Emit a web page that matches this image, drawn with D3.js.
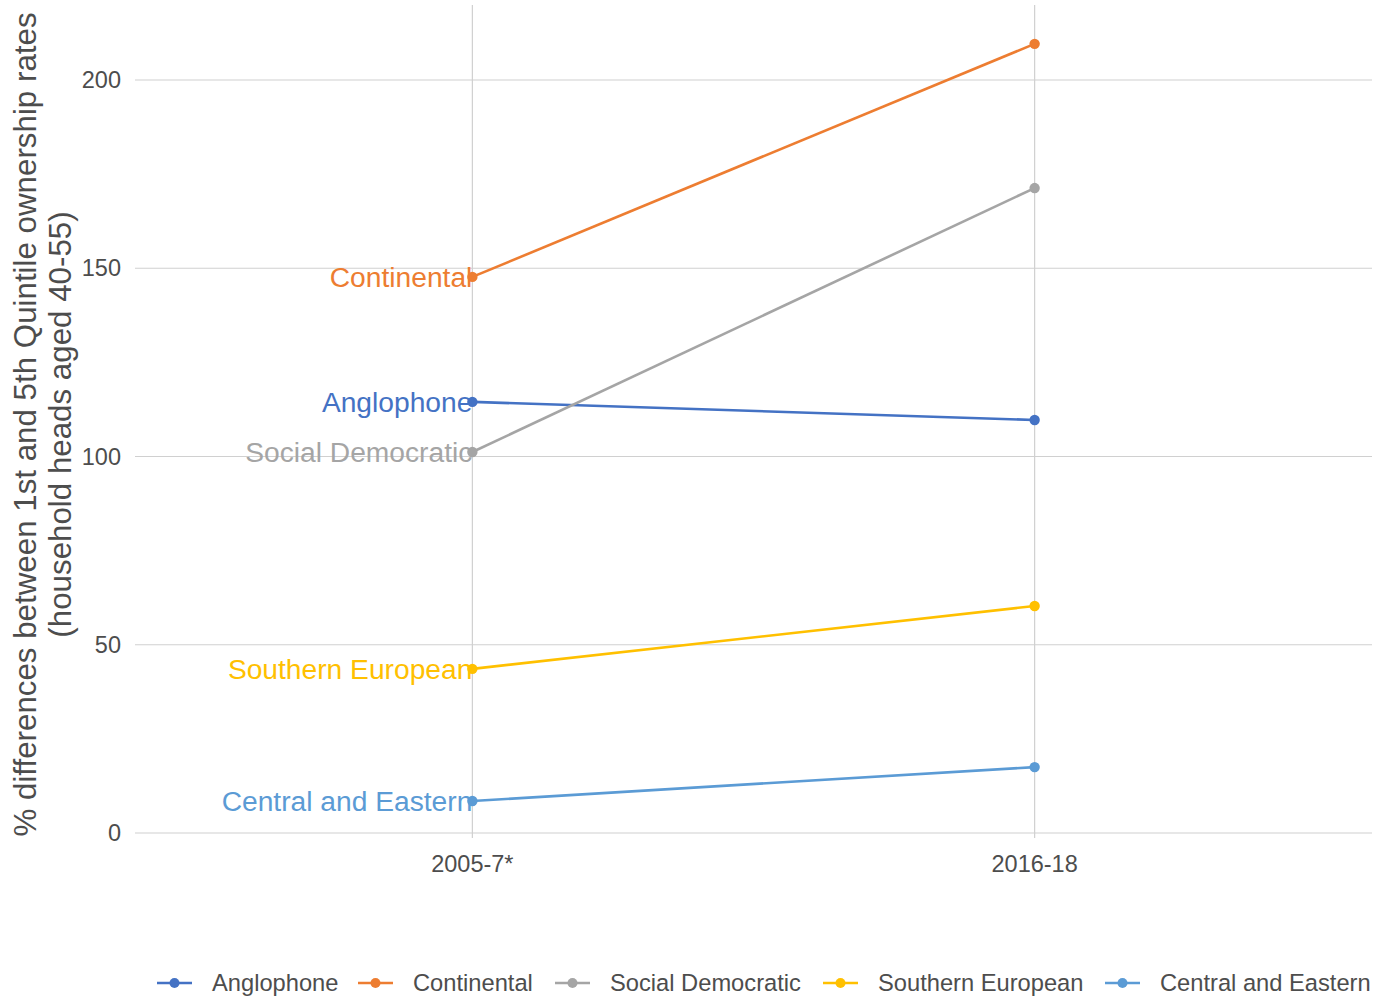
<!DOCTYPE html>
<html><head><meta charset="utf-8">
<script src="https://cdn.jsdelivr.net/npm/d3@7"></script>
<style>body{margin:0;background:#fff;}svg{display:block;font-family:"Liberation Sans",Arial,sans-serif;}</style>
</head><body>
<svg id="c" width="1384" height="998"></svg>
<script>
const periods = ["2005-7*", "2016-18"];
const groups = ["Anglophone", "Continental", "Social Democratic", "Southern European", "Central and Eastern"];
const anglophone = [114.5, 109.7];
const continental = [147.7, 209.6];
const socialDemocratic = [101.2, 171.3];
const southernEuropean = [43.6, 60.3];
const centralEastern = [8.5, 17.5];
const colors = ["#4472C4", "#ED7D31", "#A5A5A5", "#FFC000", "#5B9BD5"];
const yTicks = [0, 50, 100, 150, 200];

const seriesValues = [anglophone, continental, socialDemocratic, southernEuropean, centralEastern];
const series = groups.map((g, i) => ({name: g, color: colors[i], values: seriesValues[i].map((v, j) => ({p: periods[j], v}))}));

const svg = d3.select("#c");
const L = 135, R = 1372, T = 5, B = 838;
const y = d3.scaleLinear().domain([0, 200]).range([833, 80]);
const x = d3.scalePoint().domain(periods).range([L, R]).padding(0.6);

// grid
svg.append("g").selectAll("line").data(yTicks).join("line")
  .attr("x1", L).attr("x2", R).attr("y1", d => y(d)).attr("y2", d => y(d))
  .attr("stroke", "#d0d0d0").attr("stroke-width", 1.2);
svg.append("g").selectAll("line").data(periods).join("line")
  .attr("x1", d => x(d)).attr("x2", d => x(d)).attr("y1", T).attr("y2", B)
  .attr("stroke", "#d0d0d0").attr("stroke-width", 1.2);

// axis labels
svg.append("g").selectAll("text").data(yTicks).join("text")
  .attr("x", 121).attr("y", d => y(d)).attr("dy", "0.35em").attr("text-anchor", "end")
  .attr("font-size", 23.5).attr("fill", "#4d4d4d").text(d => d);
svg.append("g").selectAll("text").data(periods).join("text")
  .attr("x", d => x(d)).attr("y", 864).attr("dy", "0.35em").attr("text-anchor", "middle")
  .attr("font-size", 23.5).attr("fill", "#4d4d4d").text(d => d);

// y title
const yt = svg.append("text").attr("transform", `translate(0,${(T + B) / 2 + 3}) rotate(-90)`)
  .attr("text-anchor", "middle").attr("font-size", 31.3).attr("fill", "#4d4d4d");
yt.append("tspan").attr("x", 0).attr("y", 36).text("% differences between 1st and 5th Quintile ownership rates");
yt.append("tspan").attr("x", 0).attr("y", 71).text("(household heads aged 40-55)");

// lines
const line = d3.line().x(d => x(d.p)).y(d => y(d.v));
const sg = svg.append("g").selectAll("g").data(series).join("g");
sg.append("path").attr("d", d => line(d.values)).attr("fill", "none")
  .attr("stroke", d => d.color).attr("stroke-width", 2.6);
sg.selectAll("circle").data(d => d.values.map(v => ({...v, color: d.color}))).join("circle")
  .attr("cx", d => x(d.p)).attr("cy", d => y(d.v)).attr("r", 5.2).attr("fill", d => d.color);
sg.append("text").attr("x", d => x(periods[0])).attr("y", d => y(d.values[0].v)).attr("dy", "0.35em")
  .attr("text-anchor", "end").attr("font-size", 28.2).attr("fill", d => d.color).text(d => d.name);

// legend
const legX = [157, 358, 555, 823, 1105];
const lg = svg.append("g").selectAll("g").data(series).join("g")
  .attr("transform", (d, i) => `translate(${legX[i]},983)`);
lg.append("line").attr("x1", 0).attr("x2", 35).attr("stroke", d => d.color).attr("stroke-width", 2.6);
lg.append("circle").attr("cx", 17.5).attr("r", 5).attr("fill", d => d.color);
lg.append("text").attr("x", 55).attr("dy", "0.35em").attr("font-size", 23.7).attr("fill", "#4d4d4d").text(d => d.name);
</script>
</body></html>
